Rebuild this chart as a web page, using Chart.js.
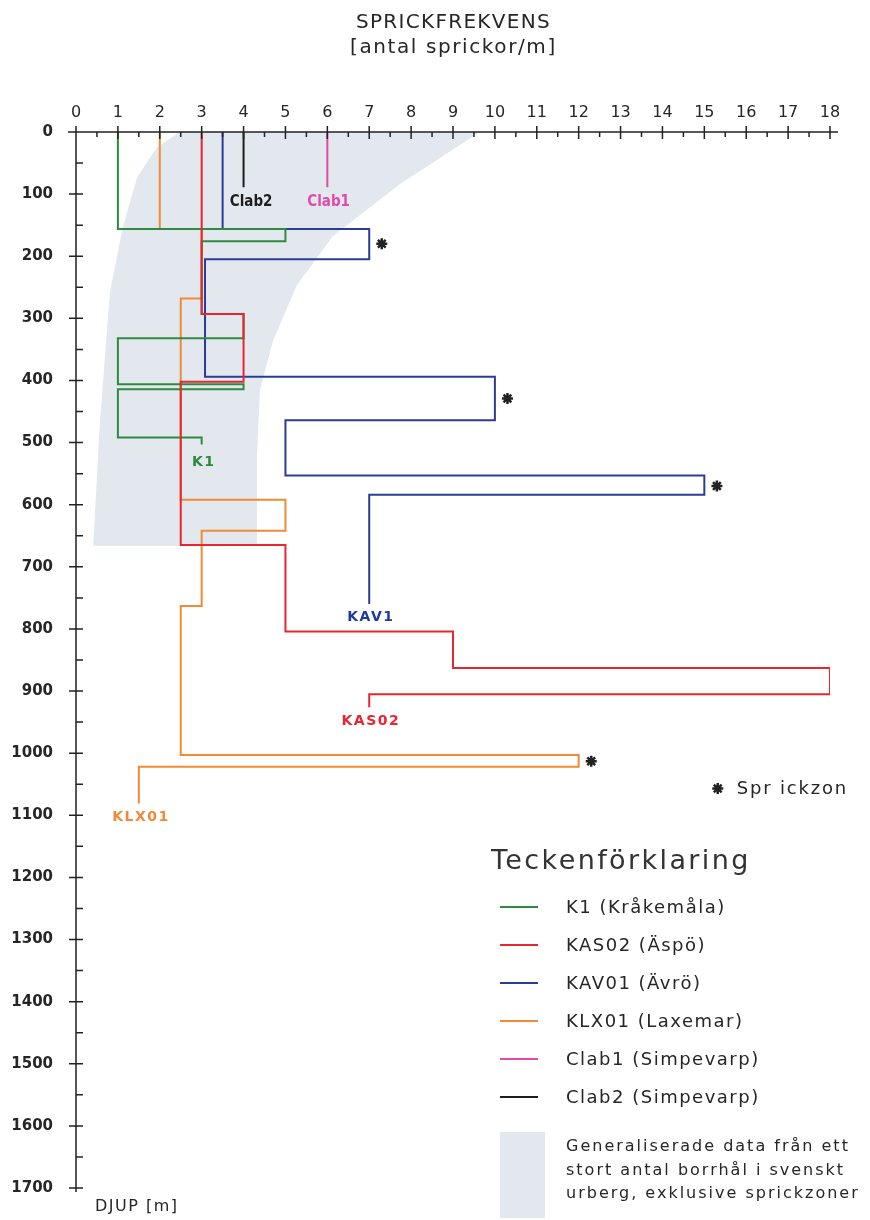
<!DOCTYPE html>
<html><head><meta charset="utf-8">
<script src="https://cdn.jsdelivr.net/npm/chart.js@4.4.1/dist/chart.umd.min.js"></script>
<style>
html,body{margin:0;padding:0;background:#fff;}
#wrap{position:relative;width:870px;height:1220px;overflow:hidden;}
#c{position:absolute;left:0;top:0;}
.t{position:absolute;font-family:"DejaVu Sans",sans-serif;color:#262626;white-space:nowrap;line-height:1;}
.sw{position:absolute;height:2px;}
</style></head><body>
<div id="wrap">
<canvas id="c" width="870" height="1220"></canvas>
<div class="t" style="left:356px;top:11px;font-size:20px;letter-spacing:1.3px;">SPRICKFREKVENS</div>
<div class="t" style="left:350px;top:36px;font-size:20px;letter-spacing:1.6px;">[antal sprickor/m]</div>
<div class="t" style="left:95px;top:1198px;font-size:16px;letter-spacing:1.5px;">DJUP [m]</div>
<div id="legend"></div>
</div>
<script>
// ---- data (x = sprickfrekvens [antal/m], depth = djup [m]) ----
const xTickValues = [0,1,2,3,4,5,6,7,8,9,10,11,12,13,14,15,16,17,18];
const depthTickValues = [0,100,200,300,400,500,600,700,800,900,1000,1100,1200,1300,1400,1500,1600,1700];

const k1X    = [1,1,5,5,3,3,4,4,1,1,4,4,1,1,3,3];
const k1D    = [0,156,156,176,176,293,293,332,332,406,406,414,414,492,492,503];

const kas02X = [3,3,4,4,2.5,2.5,5,5,9,9,18,18,7,7];
const kas02D = [0,293,293,402,402,665,665,804,804,863,863,905,905,926];

const kav01X = [3.5,3.5,7,7,3.08,3.08,10,10,5,5,15,15,7,7];
const kav01D = [0,156,156,205,205,394,394,464,464,553,553,584,584,760];

const klx01X = [2,2,3,3,2.5,2.5,5,5,3,3,2.5,2.5,12,12,1.5,1.5];
const klx01D = [0,156,156,268,268,592,592,642,642,763,763,1003,1003,1022,1022,1081];

const clab1X = [6,6];
const clab1D = [0,89];
const clab2X = [4,4];
const clab2D = [0,89];

// sprickzoner (stars)
const zoneX = [7.3,10.3,15.3,18.3,12.3];
const zoneD = [180,429,570,883,1013];

// generalised-data band outline
const bandX = [2.48,9.64,7.73,6.13,5.27,4.70,4.39,4.32,4.32,0.41,0.57,0.81,1.12,1.46,1.93];
const bandD = [0,0,84,168,247,337,416,521,666,666,468,258,152,73,25];

// in-plot labels
const labelTexts = ['Clab2','Clab1','K1','KAV1','KAS02','KLX01'];
const labelX     = [4.18,6.03,3.05,7.04,7.04,1.55];
const labelD     = [113,113,532,781,948,1103];

// legend
const legendNames = ['K1 (Kråkemåla)','KAS02 (Äspö)','KAV01 (Ävrö)','KLX01 (Laxemar)','Clab1 (Simpevarp)','Clab2 (Simpevarp)'];
const bandText = ['Generaliserade data från ett','stort antal borrhål i svenskt','urberg, exklusive sprickzoner'];

// ---- styles ----
const cGreen='#2e8a3e', cRed='#e8262f', cBlue='#2a3c98', cOrange='#ef8a36', cMag='#e04aa8', cBlack='#1e1e1e';
const legendColors = [cGreen,cRed,cBlue,cOrange,cMag,cBlack];
const labelColors = [cBlack,cMag,'#2a8a3a','#203a9a',cRed,cOrange];
const bandColor = '#e3e8ef';

const pts = (xs,ds)=>xs.map((x,i)=>({x:x,y:ds[i]}));
function lineDs(label,xs,ds,color,order){
  return {label,data:pts(xs,ds),showLine:true,borderColor:color,backgroundColor:color,
    borderWidth:2,pointRadius:0,tension:0,fill:false,order,borderJoinStyle:'miter'};
}

const bandPlugin = {
  id:'band',
  beforeDatasetsDraw(chart){
    const {ctx,chartArea:a,scales:{x,y}} = chart;
    ctx.save();
    ctx.beginPath(); ctx.rect(a.left,a.top,a.right-a.left,a.bottom-a.top); ctx.clip();
    ctx.beginPath();
    bandX.forEach((v,i)=>{
      const px=x.getPixelForValue(v), py=y.getPixelForValue(bandD[i]);
      i?ctx.lineTo(px,py):ctx.moveTo(px,py);
    });
    ctx.closePath();
    ctx.fillStyle=bandColor; ctx.fill();
    ctx.restore();
  }
};

const axisPlugin = {
  id:'axisMarks',
  afterDraw(chart){
    const {ctx,chartArea:a,scales:{x,y}} = chart;
    ctx.save();
    ctx.strokeStyle='#222'; ctx.lineWidth=1.5;
    ctx.beginPath();
    ctx.moveTo(a.left-8,a.top); ctx.lineTo(a.right+8,a.top);
    ctx.moveTo(a.left,a.top); ctx.lineTo(a.left,a.bottom+4);
    for(let v=0; v<=18.001; v+=0.5){
      const px=x.getPixelForValue(v);
      if(Math.abs(v-Math.round(v))<1e-6){ctx.moveTo(px,a.top-6);ctx.lineTo(px,a.top+7);}
      else {ctx.moveTo(px,a.top);ctx.lineTo(px,a.top+5);}
    }
    for(let d=0; d<=1700; d+=50){
      const py=y.getPixelForValue(d);
      if(d%100===0){ctx.moveTo(a.left-7,py);ctx.lineTo(a.left+7,py);}
      else {ctx.moveTo(a.left,py);ctx.lineTo(a.left+7,py);}
    }
    ctx.stroke();
    ctx.restore();
  }
};

const labelPlugin = {
  id:'labels',
  afterDatasetsDraw(chart){
    const {ctx,scales:{x,y}} = chart;
    ctx.save();
    ctx.textAlign='center'; ctx.textBaseline='middle';
    labelTexts.forEach((t,i)=>{
      const condensed = t.startsWith('Clab');
      ctx.font = condensed ? 'bold 15px "DejaVu Sans Condensed", "DejaVu Sans", sans-serif'
                           : 'bold 14px "DejaVu Sans", sans-serif';
      ctx.letterSpacing = condensed ? '0px' : '1.5px';
      ctx.fillStyle = labelColors[i];
      ctx.fillText(t, x.getPixelForValue(labelX[i]), y.getPixelForValue(labelD[i]));
    });
    // sprickzon key
    const sx=x.getPixelForValue(15.32), sy=y.getPixelForValue(1057);
    ctx.strokeStyle='#222'; ctx.lineWidth=2.5;
    ctx.beginPath();
    const r=5.5;
    for(let k=0;k<4;k++){const ang=k*Math.PI/4; ctx.moveTo(sx-r*Math.cos(ang),sy-r*Math.sin(ang)); ctx.lineTo(sx+r*Math.cos(ang),sy+r*Math.sin(ang));}
    ctx.stroke();
    ctx.font='18px "DejaVu Sans", sans-serif'; ctx.letterSpacing='1.8px';
    ctx.textAlign='left'; ctx.fillStyle='#262626';
    ctx.fillText('Spr ickzon', sx+19, sy+1);
    ctx.restore();
  }
};

const chart = new Chart(document.getElementById('c'),{
  type:'scatter',
  data:{datasets:[
    {label:'Sprickzon',data:pts(zoneX,zoneD),showLine:false,pointStyle:'star',pointRadius:5.5,
     pointBorderWidth:2.5,borderColor:'#222',backgroundColor:'#222',order:0},
    lineDs('KAS02',kas02X,kas02D,cRed,1),
    lineDs('K1',k1X,k1D,cGreen,2),
    lineDs('KAV01',kav01X,kav01D,cBlue,3),
    lineDs('KLX01',klx01X,klx01D,cOrange,4),
    lineDs('Clab1',clab1X,clab1D,cMag,5),
    lineDs('Clab2',clab2X,clab2D,cBlack,6)
  ]},
  options:{
    responsive:false, animation:false, devicePixelRatio:1,
    layout:{padding:{left:0,right:40,top:0,bottom:14}},
    plugins:{legend:{display:false},tooltip:{enabled:false},title:{display:false}},
    scales:{
      x:{type:'linear',position:'top',min:0,max:18,
        afterFit(s){s.height=132;},
        afterBuildTicks(s){s.ticks=xTickValues.map(v=>({value:v}));},
        ticks:{padding:10,color:'#262626',font:{family:'DejaVu Sans',size:16},maxRotation:0,autoSkip:false,
          callback:(v)=>String(v)},
        grid:{display:false,drawTicks:false},border:{display:false}},
      y:{type:'linear',reverse:true,min:0,max:1700,
        afterFit(s){s.width=76;},
        afterBuildTicks(s){s.ticks=depthTickValues.map(v=>({value:v}));},
        ticks:{padding:23,color:'#262626',font:{family:'DejaVu Sans',size:15,weight:'bold'},autoSkip:false,
          callback:(v)=>String(v)},
        grid:{display:false,drawTicks:false},border:{display:false}}
    }
  },
  plugins:[bandPlugin,axisPlugin,labelPlugin]
});

// ---- legend (HTML) ----
const lg = document.getElementById('legend');
let html = '<div class="t" style="left:491px;top:846px;font-size:27px;letter-spacing:2.4px;color:#333;">Teckenförklaring</div>';
const rowY = [907,945,983,1021,1059,1097];
legendNames.forEach((n,i)=>{
  html += `<div class="sw" style="left:500px;width:38px;top:${rowY[i]-1}px;background:${legendColors[i]};"></div>`;
  html += `<div class="t" style="left:566px;top:${rowY[i]-9}px;font-size:18px;letter-spacing:1.5px;">${n}</div>`;
});
html += `<div style="position:absolute;left:500px;top:1132px;width:45px;height:86px;background:${bandColor};"></div>`;
const bY=[1146,1170,1193];
bandText.forEach((t,i)=>{
  html += `<div class="t" style="left:566px;top:${bY[i]-8}px;font-size:16px;letter-spacing:2px;">${t}</div>`;
});
lg.innerHTML = html;
</script>
</body></html>
